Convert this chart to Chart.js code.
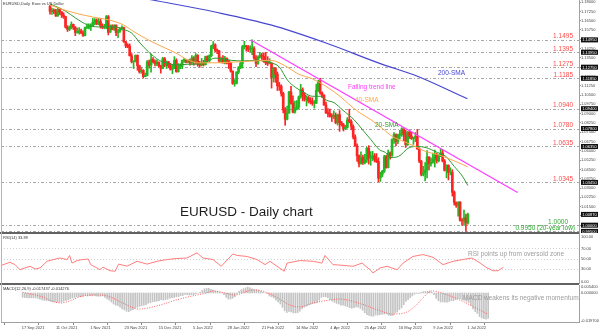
<!DOCTYPE html>
<html><head><meta charset="utf-8">
<script src="https://cdn.jsdelivr.net/npm/chart.js@4.4.0/dist/chart.umd.min.js"></script>
<style>
html,body{margin:0;padding:0;background:#fff;}
#wrap{position:relative;width:600px;height:330px;overflow:hidden;background:#fff;}
canvas{position:absolute;left:0;}
.sep{position:absolute;left:0;width:579px;height:2px;background:#626262;}
</style></head><body>
<div id="wrap">
<canvas id="cMain" width="600" height="233" style="top:0"></canvas>
<canvas id="cRsi" width="600" height="51" style="top:233px"></canvas>
<canvas id="cMacd" width="600" height="46" style="top:284px"></canvas>
<div class="sep" style="top:232px"></div>
<div class="sep" style="top:283px"></div>
<div style="position:absolute;left:1px;top:0;width:1px;height:322px;background:#b4b4b4"></div>
</div>
<script>
// ---------------- DATA ----------------
const opens = [
1.1765,1.1725,1.1727,1.1725,1.1688,1.1741,1.1720,1.1695,1.1683,1.1598,
1.1580,1.1596,1.1620,1.1598,1.1555,1.1555,1.1569,1.1551,1.1530,1.1594,
1.1595,1.1602,1.1610,1.1636,1.1655,1.1623,1.1644,1.1607,1.1596,1.1603,
1.1682,1.1557,1.1607,1.1580,1.1614,1.1553,1.1567,1.1586,1.1594,1.1479,
1.1446,1.1444,1.1367,1.1319,1.1319,1.1370,1.1288,1.1238,1.1249,1.1199,
1.1208,1.1318,1.1291,1.1337,1.1319,1.1303,1.1315,1.1286,1.1265,1.1342,
1.1290,1.1317,1.1285,1.1258,1.1287,1.1330,1.1239,1.1281,1.1282,1.1329,
1.1329,1.1317,1.1328,1.1310,1.1350,1.1324,1.1370,1.1300,1.1290,1.1313,
1.1296,1.1360,1.1327,1.1367,1.1442,1.1456,1.1411,1.1406,1.1325,1.1343,
1.1310,1.1345,1.1326,1.1305,1.1243,1.1143,1.1144,1.1235,1.1270,1.1305,
1.1440,1.1448,1.1440,1.1416,1.1422,1.1425,1.1348,1.1306,1.1357,1.1372,
1.1362,1.1321,1.1309,1.1307,1.1309,1.1192,1.1269,1.1218,1.1126,1.1120,
1.1063,1.0930,1.0855,1.0904,1.1075,1.0983,1.0912,1.0943,1.0955,1.1036,
1.1092,1.1050,1.1016,1.1029,1.1003,1.0997,1.0983,1.0984,1.1088,1.1158,
1.1067,1.1047,1.0970,1.0905,1.0901,1.0878,1.0875,1.0886,1.0827,1.0891,
1.0826,1.0810,1.0779,1.0789,1.0851,1.0837,1.0797,1.0712,1.0640,1.0559,
1.0496,1.0545,1.0507,1.0526,1.0620,1.0541,1.0550,1.0560,1.0530,1.0514,
1.0380,1.0410,1.0435,1.0553,1.0465,1.0583,1.0562,1.0691,1.0732,1.0675,
1.0727,1.0733,1.0777,1.0735,1.0650,1.0751,1.0718,1.0698,1.0704,1.0716,
1.0615,1.0518,1.0410,1.0420,1.0445,1.0550,1.0495,1.0506,1.0535,1.0567,
1.0521,1.0554,1.0582,1.0518,1.0442,1.0484,1.0425,1.0425,1.0266,1.0183,
1.0160,1.0186,1.0040,1.0035,1.0060,1.0018];
const highs = [
1.1773,1.1752,1.1746,1.1741,1.1750,1.1751,1.1724,1.1714,1.1686,1.1610,
1.1608,1.1640,1.1623,1.1603,1.1591,1.1594,1.1582,1.1568,1.1599,1.1624,
1.1625,1.1625,1.1668,1.1667,1.1665,1.1669,1.1665,1.1625,1.1621,1.1692,
1.1692,1.1616,1.1617,1.1616,1.1616,1.1580,1.1595,1.1608,1.1598,1.1484,
1.1464,1.1463,1.1385,1.1323,1.1374,1.1374,1.1291,1.1274,1.1255,1.1228,
1.1329,1.1332,1.1383,1.1352,1.1335,1.1335,1.1318,1.1291,1.1355,1.1354,
1.1325,1.1322,1.1306,1.1298,1.1360,1.1343,1.1304,1.1302,1.1333,1.1345,
1.1334,1.1335,1.1340,1.1369,1.1360,1.1385,1.1376,1.1322,1.1346,1.1330,
1.1364,1.1367,1.1375,1.1453,1.1482,1.1464,1.1423,1.1411,1.1357,1.1369,
1.1363,1.1350,1.1330,1.1315,1.1245,1.1175,1.1239,1.1280,1.1316,1.1451,
1.1484,1.1450,1.1450,1.1448,1.1495,1.1441,1.1368,1.1366,1.1395,1.1386,
1.1391,1.1395,1.1360,1.1343,1.1310,1.1274,1.1270,1.1236,1.1152,1.1133,
1.1073,1.0949,1.0961,1.1081,1.1121,1.1044,1.1001,1.1006,1.1043,1.1137,
1.1108,1.1070,1.1045,1.1043,1.1030,1.1028,1.1007,1.1138,1.1169,1.1185,
1.1076,1.1053,1.0993,1.0940,1.0937,1.0899,1.0922,1.0906,1.0896,1.0925,
1.0838,1.0821,1.0806,1.0869,1.0936,1.0851,1.0810,1.0729,1.0657,1.0568,
1.0592,1.0566,1.0572,1.0630,1.0642,1.0594,1.0597,1.0578,1.0578,1.0544,
1.0428,1.0443,1.0564,1.0564,1.0607,1.0592,1.0697,1.0748,1.0738,1.0735,
1.0765,1.0787,1.0778,1.0765,1.0756,1.0764,1.0752,1.0710,1.0748,1.0773,
1.0625,1.0522,1.0475,1.0506,1.0602,1.0553,1.0544,1.0582,1.0606,1.0581,
1.0569,1.0615,1.0606,1.0530,1.0487,1.0487,1.0463,1.0448,1.0276,1.0188,
1.0189,1.0190,1.0054,1.0122,1.0090,1.0097];
const lows = [
1.1703,1.1700,1.1707,1.1684,1.1685,1.1700,1.1675,1.1669,1.1590,1.1563,
1.1570,1.1584,1.1579,1.1529,1.1549,1.1542,1.1545,1.1524,1.1528,1.1585,
1.1583,1.1571,1.1605,1.1618,1.1618,1.1617,1.1590,1.1586,1.1585,1.1584,
1.1535,1.1555,1.1576,1.1571,1.1529,1.1513,1.1556,1.1575,1.1475,1.1432,
1.1432,1.1365,1.1309,1.1264,1.1317,1.1250,1.1227,1.1225,1.1186,1.1198,
1.1205,1.1266,1.1235,1.1309,1.1286,1.1287,1.1274,1.1227,1.1262,1.1278,
1.1264,1.1270,1.1251,1.1222,1.1263,1.1234,1.1234,1.1262,1.1262,1.1313,
1.1309,1.1310,1.1291,1.1300,1.1291,1.1300,1.1283,1.1273,1.1285,1.1285,
1.1292,1.1315,1.1316,1.1358,1.1424,1.1397,1.1384,1.1313,1.1310,1.1308,
1.1301,1.1301,1.1264,1.1235,1.1136,1.1121,1.1139,1.1222,1.1263,1.1268,
1.1422,1.1404,1.1400,1.1398,1.1375,1.1338,1.1280,1.1298,1.1347,1.1338,
1.1314,1.1295,1.1288,1.1302,1.1106,1.1154,1.1153,1.1087,1.1088,1.1041,
1.0906,1.0806,1.0850,1.0904,1.0977,1.0906,1.0903,1.0930,1.0940,1.1024,
1.1003,1.1001,1.0962,1.0986,1.0978,1.0967,1.0945,1.0981,1.1078,1.1057,
1.1028,1.0966,1.0902,1.0874,1.0872,1.0837,1.0860,1.0818,1.0807,1.0757,
1.0799,1.0760,1.0771,1.0783,1.0826,1.0770,1.0696,1.0637,1.0514,1.0470,
1.0493,1.0490,1.0495,1.0506,1.0493,1.0484,1.0521,1.0510,1.0505,1.0350,
1.0353,1.0390,1.0425,1.0460,1.0462,1.0532,1.0554,1.0660,1.0642,1.0658,
1.0698,1.0717,1.0681,1.0627,1.0642,1.0700,1.0691,1.0652,1.0674,1.0612,
1.0505,1.0398,1.0397,1.0358,1.0381,1.0445,1.0477,1.0500,1.0469,1.0501,
1.0511,1.0553,1.0510,1.0437,1.0382,1.0365,1.0405,1.0235,1.0162,1.0144,
1.0072,1.0032,0.9999,0.9998,0.9952,1.0008];
const closes = [
1.1725,1.1727,1.1725,1.1688,1.1741,1.1720,1.1695,1.1683,1.1598,1.1580,
1.1596,1.1620,1.1598,1.1555,1.1555,1.1569,1.1551,1.1530,1.1594,1.1595,
1.1602,1.1610,1.1636,1.1655,1.1623,1.1644,1.1607,1.1596,1.1603,1.1682,
1.1557,1.1607,1.1580,1.1614,1.1553,1.1567,1.1586,1.1594,1.1479,1.1446,
1.1444,1.1367,1.1319,1.1319,1.1370,1.1288,1.1238,1.1249,1.1199,1.1208,
1.1318,1.1291,1.1337,1.1319,1.1303,1.1315,1.1286,1.1265,1.1342,1.1290,
1.1317,1.1285,1.1258,1.1287,1.1330,1.1239,1.1281,1.1282,1.1329,1.1329,
1.1317,1.1328,1.1310,1.1350,1.1324,1.1370,1.1300,1.1290,1.1313,1.1296,
1.1360,1.1327,1.1367,1.1442,1.1456,1.1411,1.1406,1.1325,1.1343,1.1310,
1.1345,1.1326,1.1305,1.1243,1.1143,1.1144,1.1235,1.1270,1.1305,1.1440,
1.1448,1.1440,1.1416,1.1422,1.1425,1.1348,1.1306,1.1357,1.1372,1.1362,
1.1321,1.1309,1.1307,1.1309,1.1192,1.1269,1.1218,1.1126,1.1120,1.1063,
1.0930,1.0855,1.0904,1.1075,1.0983,1.0912,1.0943,1.0955,1.1036,1.1092,
1.1050,1.1016,1.1029,1.1003,1.0997,1.0983,1.0984,1.1088,1.1158,1.1067,
1.1047,1.0970,1.0905,1.0901,1.0878,1.0875,1.0886,1.0827,1.0891,1.0826,
1.0810,1.0779,1.0789,1.0851,1.0837,1.0797,1.0712,1.0640,1.0559,1.0496,
1.0545,1.0507,1.0526,1.0620,1.0541,1.0550,1.0560,1.0530,1.0514,1.0380,
1.0410,1.0435,1.0553,1.0465,1.0583,1.0562,1.0691,1.0732,1.0675,1.0727,
1.0733,1.0777,1.0735,1.0650,1.0751,1.0718,1.0698,1.0704,1.0716,1.0615,
1.0518,1.0410,1.0420,1.0445,1.0550,1.0495,1.0506,1.0535,1.0567,1.0521,
1.0554,1.0582,1.0518,1.0442,1.0484,1.0425,1.0425,1.0266,1.0183,1.0160,
1.0186,1.0040,1.0035,1.0060,1.0018,1.0087];

const sma20Bars = [0,7.7,13.3,19.3,24.9,33.4,37.7,42,46.3,50.6,56.2,59.2,64.7,70.8,76.3,80.6,84.9,93.5,99,106.3,113.6,117.9,122.2,126.5,130.8,135.1,139.4,142,146.2,150.5,156.5,160.8,165.1,169.4,172.7,175,179.2,184.8,189.1,193.4,199.4,203.7,208,212.3,215];
const sma20Vals = [1.1785,1.173,1.167,1.1616,1.160,1.160,1.158,1.155,1.147,1.140,1.133,1.131,1.1294,1.1298,1.130,1.132,1.1348,1.133,1.1325,1.133,1.131,1.1278,1.117,1.111,1.107,1.104,1.104,1.101,1.0988,1.093,1.085,1.077,1.069,1.061,1.0585,1.0546,1.0554,1.0626,1.0635,1.0626,1.0586,1.0554,1.0474,1.0393,1.032];
const sma40Bars = [0,4.7,13.3,21.9,30.4,37.7,43.3,50.6,59.2,64.7,70.8,76.3,84.9,99,113.6,120.5,127.8,135.1,142,149.2,153.5,159.1,165.1,170.7,176.2,182.2,187.8,193.4,199.4,206.3,212.3,215];
const sma40Vals = [1.1777,1.175,1.171,1.168,1.1656,1.1616,1.156,1.1495,1.143,1.139,1.1335,1.131,1.131,1.132,1.133,1.129,1.122,1.118,1.112,1.104,1.098,1.091,1.0851,1.0785,1.0715,1.0675,1.0635,1.0594,1.057,1.053,1.049,1.047];
const sma200Bars = [40,52.7,84.9,113.6,142,170.7,187.8,214.8];
const sma200Vals = [1.1855,1.1817,1.172,1.1616,1.147,1.130,1.121,1.102];
const trendBars = [103.3,240.6];
const trendVals = [1.1495,1.0264];

const levels = [1.1495,1.1395,1.1275,1.1185,1.0940,1.0780,1.0635,1.0345,1.0000,0.9950];
const levelTexts = ['1.1495','1.1395','1.1275','1.1185','1.0940','1.0780','1.0635','1.0345','1.0000','0.9950 (20-year low)'];
const priceTicks = [1.0000,1.0075,1.0150,1.0225,1.0300,1.0375,1.0450,1.0525,1.0600,1.0675,1.0750,1.0825,1.0900,1.0975,1.1050,1.1125,1.1200,1.1275,1.1350,1.1425,1.1500,1.1575,1.1650,1.1725,1.1800];

const rsiBars = [0,3.4,5.6,7.7,9.9,12,14.2,16.3,19.3,21.9,24.9,27.9,29,30,32.2,34.7,37,38,40.7,42,43.3,46.3,48.5,50,53.6,57.9,62.2,66.5,70.8,75,79.3,83.6,86.2,90.5,94,99,100.8,105.1,109.3,112.8,114.9,121,122.2,127.8,133.4,137.2,138.5,141.9,146.2,150.5,154.4,157.8,159.1,162.1,165.1,169.4,172,176.2,180.5,184.8,189.1,193.4,197.7,201.5,205,208,210.5,212.7,215];
const rsiVals = [37,42.5,38,28,31.5,34.7,29.5,31.5,44.5,47.8,51,48,56,41,46,48,49,38,31.5,28,33,26,25,39,35,44.5,39,44.5,48,50,51,61,51,48,34.7,59,56,54,48,38,44.5,25,41,46,44.5,41,56,38,36.6,34.7,41,28,21.6,31.5,34.7,28,41,54,57.7,52.4,38,44.5,48,51,41,31.5,26,26,33];
const rsiTicks = [100,70,50,30,0];
const rsiGuides = [70,50,30];

const macdHist = [
-0.0030,-0.0031,-0.0032,-0.0034,-0.0033,-0.0033,-0.0034,-0.0036,-0.0042,-0.0047,
-0.0050,-0.0051,-0.0053,-0.0057,-0.0060,-0.0061,-0.0062,-0.0064,-0.0060,-0.0056,
-0.0051,-0.0046,-0.0040,-0.0034,-0.0031,-0.0027,-0.0026,-0.0025,-0.0023,-0.0015,
-0.0021,-0.0019,-0.0020,-0.0017,-0.0021,-0.0023,-0.0022,-0.0020,-0.0030,-0.0040,
-0.0049,-0.0062,-0.0075,-0.0083,-0.0086,-0.0097,-0.0108,-0.0115,-0.0124,-0.0127,
-0.0119,-0.0113,-0.0103,-0.0097,-0.0092,-0.0086,-0.0083,-0.0080,-0.0070,-0.0066,
-0.0060,-0.0058,-0.0056,-0.0053,-0.0046,-0.0048,-0.0045,-0.0042,-0.0036,-0.0032,
-0.0030,-0.0026,-0.0025,-0.0019,-0.0017,-0.0010,-0.0012,-0.0014,-0.0012,-0.0012,
-0.0005,-0.0002,0.0004,0.0017,0.0028,0.0031,0.0032,0.0025,0.0020,0.0013,
0.0011,0.0006,0.0000,-0.0011,-0.0029,-0.0041,-0.0041,-0.0036,-0.0026,-0.0006,
0.0011,0.0022,0.0029,0.0035,0.0040,0.0035,0.0028,0.0024,0.0022,0.0018,
0.0011,0.0005,0.0000,-0.0005,-0.0021,-0.0026,-0.0034,-0.0049,-0.0060,-0.0075,
-0.0098,-0.0121,-0.0133,-0.0125,-0.0128,-0.0135,-0.0136,-0.0134,-0.0124,-0.0108,
-0.0097,-0.0090,-0.0082,-0.0077,-0.0072,-0.0068,-0.0065,-0.0050,-0.0030,-0.0026,
-0.0026,-0.0033,-0.0045,-0.0055,-0.0064,-0.0071,-0.0075,-0.0083,-0.0082,-0.0088,
-0.0093,-0.0100,-0.0104,-0.0099,-0.0095,-0.0096,-0.0105,-0.0118,-0.0134,-0.0148,
-0.0152,-0.0157,-0.0158,-0.0150,-0.0150,-0.0148,-0.0144,-0.0143,-0.0142,-0.0151,
-0.0154,-0.0152,-0.0135,-0.0130,-0.0113,-0.0101,-0.0079,-0.0058,-0.0046,-0.0032,
-0.0020,-0.0008,-0.0003,-0.0005,0.0005,0.0009,0.0010,0.0011,0.0013,0.0005,
-0.0012,-0.0036,-0.0052,-0.0062,-0.0060,-0.0062,-0.0062,-0.0058,-0.0052,-0.0052,
-0.0046,-0.0038,-0.0039,-0.0047,-0.0049,-0.0058,-0.0064,-0.0084,-0.0108,-0.0127,
-0.0139,-0.0160,-0.0170,-0.0174,-0.0178,-0.0172];
const macdSigBars = [0,7.7,17.6,27.9,33.4,39,46.3,53.6,63.5,70.8,78.5,84.9,87.9,93.5,97.8,106.3,110.6,117,123.5,127.8,134.2,141.9,146.2,156.5,164.2,170.7,176.2,181.4,184.8,189.1,193.4,202,209.3,214.8];
const macdSigVals = [0.0005,-0.0020,-0.0068,-0.0020,-0.0014,-0.0020,-0.0068,-0.0109,-0.0082,-0.0048,-0.0020,0.0000,0.0014,0.0000,-0.0014,0.0020,0.0014,-0.0027,-0.0082,-0.0095,-0.0068,-0.0048,-0.0041,-0.0075,-0.0116,-0.0143,-0.0136,-0.0088,-0.0034,0.0014,0.0000,-0.0048,-0.0102,-0.0143];

const xTickBars = [-0.4,15.4,31.2,47.1,62.9,78.7,94.6,110.4,126.2,142.1,157.9,173.7,189.6,205.4];
const xTickLabels = ['17 Sep 2021','11 Oct 2021','1 Nov 2021','23 Nov 2021','15 Dec 2021','5 Jan 2022','28 Jan 2022','21 Feb 2022','14 Mar 2022','4 Apr 2022','25 Apr 2022','16 May 2022','9 Jun 2022','1 Jul 2022'];

// ---------------- STYLE ----------------
const FONT = "'Liberation Sans', Arial, sans-serif";
const X_MIN = -0.43, X_MAX = 247.4;
const UP = '#22b822', DOWN = '#ff2424';
const C20 = '#2f9b2f', C40 = '#ffa64a', C200 = '#4646d2', CTREND = '#ff3cff';
const LVL_RED = '#ff4a4a', LVL_GREEN = '#2fa82f';

function txt(ctx, s, x, y, size, color, align) {
  ctx.save();
  ctx.font = size + 'px ' + FONT;
  ctx.fillStyle = color;
  ctx.textAlign = align || 'left';
  ctx.textBaseline = 'alphabetic';
  ctx.fillText(s, x, y);
  ctx.restore();
}
const pts = (xs, ys) => xs.map((x, k) => ({x: x, y: ys[k]}));
const isUp = i => closes[i] >= opens[i];
const fitRight = s => { s.width = 21; s.paddingTop = 0; s.paddingBottom = 0; };
const baseOpts = {
  responsive: false, animation: false, devicePixelRatio: 1, events: [],
  plugins: {legend: {display: false}, tooltip: {enabled: false}}
};

// ---------------- MAIN PRICE CHART ----------------
const mainPlugin = {
  id: 'mainDeco',
  beforeDatasetsDraw(chart) {
    const {ctx, chartArea: a, scales: {y}} = chart;
    ctx.save();
    ctx.strokeStyle = '#a6a6a6'; ctx.lineWidth = 1; ctx.setLineDash([3, 2, 1, 2]);
    levels.forEach(v => {
      const py = Math.round(y.getPixelForValue(v)) + 0.5;
      ctx.beginPath(); ctx.moveTo(a.left, py); ctx.lineTo(a.right, py); ctx.stroke();
    });
    ctx.restore();
  },
  afterDatasetsDraw(chart) {
    const {ctx, scales: {y}} = chart;
    levels.forEach((v, k) => {
      const py = y.getPixelForValue(v) - 1.5;
      const green = v <= 1.0;
      const rx = k === levels.length - 1 ? 575 : (green ? 568 : 573);
      txt(ctx, levelTexts[k], rx, py, 6.5, green ? LVL_GREEN : LVL_RED, 'right');
    });
    txt(ctx, 'Falling trend line', 348, 89, 6.5, CTREND);
    txt(ctx, '40-SMA', 355, 102, 6.5, C40);
    txt(ctx, '20-SMA', 375, 127, 6.5, C20);
    txt(ctx, '200-SMA', 438, 75, 6.5, C200);
    txt(ctx, 'EURUSD - Daily chart', 180, 216, 13.5, '#1e1e1e');
    txt(ctx, 'EURUSD,Daily  Euro vs US Dollar', 3, 5, 4, '#333');
  },
  afterDraw(chart) {
    const {ctx, scales: {y}} = chart;
    const boxes = levels.concat([closes[closes.length - 1]]);
    boxes.forEach(v => {
      const py = y.getPixelForValue(v);
      ctx.save();
      ctx.fillStyle = '#111';
      ctx.fillRect(581, py - 2.5, 17, 5);
      ctx.restore();
      txt(ctx, v.toFixed(5), 589.5, py + 1.5, 4, '#fff', 'center');
    });
  }
};

new Chart(document.getElementById('cMain'), {
  type: 'bar',
  data: {
    datasets: [
      {type: 'line', data: pts(sma200Bars, sma200Vals), borderColor: C200, borderWidth: 1.2, pointRadius: 0, cubicInterpolationMode: 'monotone', order: 0},
      {type: 'line', data: pts(trendBars, trendVals), borderColor: CTREND, borderWidth: 1.2, pointRadius: 0, order: 0},
      {type: 'line', data: pts(sma40Bars, sma40Vals), borderColor: C40, borderWidth: 1, pointRadius: 0, cubicInterpolationMode: 'monotone', order: 0},
      {type: 'line', data: pts(sma20Bars, sma20Vals), borderColor: C20, borderWidth: 1, pointRadius: 0, cubicInterpolationMode: 'monotone', order: 0},
      {type: 'bar', data: closes.map((c, i) => ({x: i, y: [opens[i], c]})), backgroundColor: ctx => isUp(ctx.dataIndex) ? UP : DOWN,
        barThickness: 2, grouped: false, minBarLength: 1, order: 1},
      {type: 'bar', data: closes.map((c, i) => ({x: i, y: [lows[i], highs[i]]})), backgroundColor: ctx => isUp(ctx.dataIndex) ? UP : DOWN,
        barThickness: 1, grouped: false, order: 2}
    ]
  },
  options: Object.assign({}, baseOpts, {
    layout: {padding: {left: 1, right: 0, top: 0, bottom: 1}},
    scales: {
      x: {type: 'linear', min: X_MIN, max: X_MAX, display: false},
      y: {type: 'linear', position: 'right', min: 0.9945, max: 1.1817,
        afterBuildTicks: s => { s.ticks = priceTicks.map(v => ({value: v})); },
        afterFit: fitRight,
        ticks: {font: {size: 4, family: FONT}, color: '#444', padding: 0, callback: v => Number(v).toFixed(5)},
        grid: {drawOnChartArea: false, drawTicks: true, tickLength: 2, color: '#999'},
        border: {display: true, color: '#a0a0a0', width: 1}}
    }
  }),
  plugins: [mainPlugin]
});

// ---------------- RSI ----------------
const rsiPlugin = {
  id: 'rsiDeco',
  beforeDatasetsDraw(chart) {
    const {ctx, chartArea: a, scales: {y}} = chart;
    ctx.save();
    ctx.strokeStyle = '#d0d0d0'; ctx.lineWidth = 1; ctx.setLineDash([1, 2]);
    rsiGuides.forEach(v => {
      const py = Math.round(y.getPixelForValue(v)) + 0.5;
      ctx.beginPath(); ctx.moveTo(a.left, py); ctx.lineTo(a.right, py); ctx.stroke();
    });
    ctx.restore();
  },
  afterDraw(chart) {
    const {ctx, scales: {y}} = chart;
    rsiTicks.forEach(v => {
      const py = Math.min(Math.max(y.getPixelForValue(v), 3), 48.5);
      txt(ctx, v.toFixed(2), 581, py + 1.5, 4, '#444');
    });
    txt(ctx, 'RSI(14) 33.89', 3, 6, 4, '#333');
    txt(ctx, 'RSI points up from oversold zone', 468, 23, 6.5, '#9c9c9c');
  }
};
new Chart(document.getElementById('cRsi'), {
  type: 'line',
  data: {datasets: [{data: pts(rsiBars, rsiVals), borderColor: '#ff7d7d', borderWidth: 1, pointRadius: 0, tension: 0}]},
  options: Object.assign({}, baseOpts, {
    layout: {padding: {left: 1, right: 0, top: 0, bottom: 0}},
    scales: {
      x: {type: 'linear', min: X_MIN, max: X_MAX, display: false},
      y: {type: 'linear', position: 'right', min: 0, max: 100, afterFit: fitRight,
        ticks: {display: false}, grid: {display: false}, border: {display: true, color: '#a0a0a0'}}
    }
  }),
  plugins: [rsiPlugin]
});

// ---------------- MACD ----------------
const macdPlugin = {
  id: 'macdDeco',
  afterDraw(chart) {
    const {ctx, scales: {y}} = chart;
    [y.max, 0, y.min].forEach(v => {
      const py = Math.min(Math.max(y.getPixelForValue(v), 2.5), 36.5);
      txt(ctx, v.toFixed(6), 581, py + 1.5, 4, '#444');
    });
    txt(ctx, 'MACD(12,26,9) -0.017437 -0.014276', 3, 6, 4, '#333');
    txt(ctx, 'MACD weakens its negative momentum', 463, 16, 6.5, '#9c9c9c');
  }
};
new Chart(document.getElementById('cMacd'), {
  type: 'bar',
  data: {
    datasets: [
      {type: 'line', data: pts(macdSigBars, macdSigVals), borderColor: '#ff5c5c', borderWidth: 1, borderDash: [1, 1.5], pointRadius: 0, cubicInterpolationMode: 'monotone', order: 0},
      {type: 'bar', data: macdHist.map((v, i) => ({x: i, y: v})), backgroundColor: '#c4c4c4', barThickness: 1, grouped: false, order: 1}
    ]
  },
  options: Object.assign({}, baseOpts, {
    layout: {padding: {left: 1, right: 0, top: 1, bottom: 0}},
    scales: {
      x: {type: 'linear', position: 'bottom', min: X_MIN, max: X_MAX,
        afterBuildTicks: s => { s.ticks = xTickBars.map(v => ({value: v})); },
        afterFit: s => { s.height = 8; s.paddingLeft = 0; s.paddingRight = 0; },
        ticks: {font: {size: 4, family: FONT}, color: '#444', align: 'start', padding: 0, maxRotation: 0, autoSkip: false,
          callback: (v, i) => xTickLabels[i]},
        grid: {drawOnChartArea: false, drawTicks: true, tickLength: 3, color: '#888'},
        border: {display: true, color: '#a0a0a0'}},
      y: {type: 'linear', position: 'right', min: -0.0197, max: 0.0054, afterFit: fitRight,
        ticks: {display: false}, grid: {display: false}, border: {display: true, color: '#a0a0a0'}}
    }
  }),
  plugins: [macdPlugin]
});
</script>
</body></html>
